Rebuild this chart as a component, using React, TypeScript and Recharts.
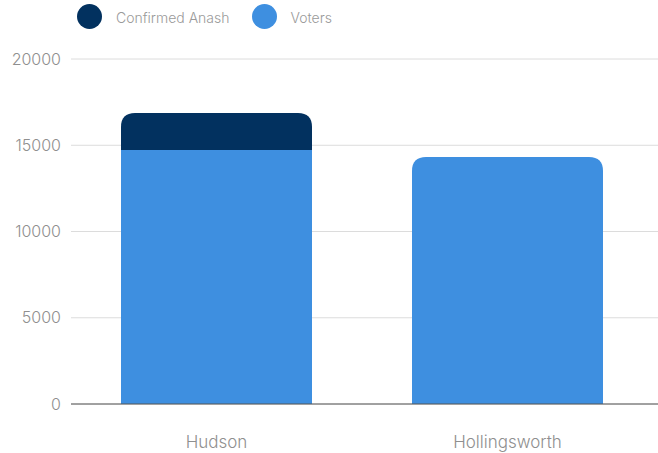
import React from 'react';
import { BarChart, Bar, XAxis, YAxis, CartesianGrid } from 'recharts';

const categories = ['Hudson', 'Hollingsworth'];
const voters = [14725, 14320];
const confirmedAnash = [2145, 0];
const yTicks = [0, 5000, 10000, 15000, 20000];

const DARK = '#02315F';
const LIGHT = '#3E8FE0';

const data = categories.map((name, i) => ({ name, voters: voters[i], anash: confirmedAnash[i] }));

const legendItems = [
  { label: 'Confirmed Anash', color: DARK },
  { label: 'Voters', color: LIGHT },
];

// bar with only the top corners rounded
function TopRounded(props: any) {
  const { x, y, width, height, fill, r } = props;
  if (!height || height <= 0) return null;
  const rr = Math.min(r, height, width / 2);
  const d = `M${x},${y + height} L${x},${y + rr} Q${x},${y} ${x + rr},${y} L${x + width - rr},${y} Q${x + width},${y} ${x + width},${y + rr} L${x + width},${y + height} Z`;
  return <path d={d} fill={fill} />;
}

const tickStyle = { fill: '#8f8f8f', fontSize: 16, fontWeight: 300, fontFamily: 'Inter' };

export default function App() {
  return (
    <div style={{ position: 'absolute', left: 0, top: 0, width: 658, height: 453, background: '#fff' }}>
      <div style={{ position: 'absolute', left: 77, top: 4, display: 'flex', alignItems: 'center', fontFamily: 'Inter', fontWeight: 300, fontSize: 14, color: '#9a9a9a' }}>
        {legendItems.map((it, i) => (
          <div key={it.label} style={{ display: 'flex', alignItems: 'center', marginRight: i === 0 ? 22 : 0 }}>
            <span style={{ width: 25, height: 25, borderRadius: '50%', background: it.color, display: 'inline-block', marginRight: 14 }} />
            <span style={{ position: 'relative', top: 1 }}>{it.label}</span>
          </div>
        ))}
      </div>
      <BarChart width={658} height={453} data={data} margin={{ top: 59, right: 0, bottom: 0, left: 0 }}>
        <CartesianGrid horizontal vertical={false} stroke="#dcdcdc" />
        <XAxis
          dataKey="name"
          axisLine={{ stroke: '#555' }}
          tickLine={false}
          tick={{ ...tickStyle, fontSize: 17 }}
          tickMargin={26}
          height={49}
          padding={{ left: 0, right: 5 }}
        />
        <YAxis
          domain={[0, 20000]}
          ticks={yTicks}
          axisLine={false}
          tickLine={false}
          tick={tickStyle}
          tickMargin={4}
          width={71}
        />
        <Bar
          dataKey="voters"
          stackId="a"
          fill={LIGHT}
          barSize={191}
          isAnimationActive={false}
          shape={(p: any) => <TopRounded {...p} r={p.payload.anash > 0 ? 0 : 14} />}
        />
        <Bar
          dataKey="anash"
          stackId="a"
          fill={DARK}
          barSize={191}
          isAnimationActive={false}
          shape={(p: any) => <TopRounded {...p} r={14} />}
        />
      </BarChart>
    </div>
  );
}
